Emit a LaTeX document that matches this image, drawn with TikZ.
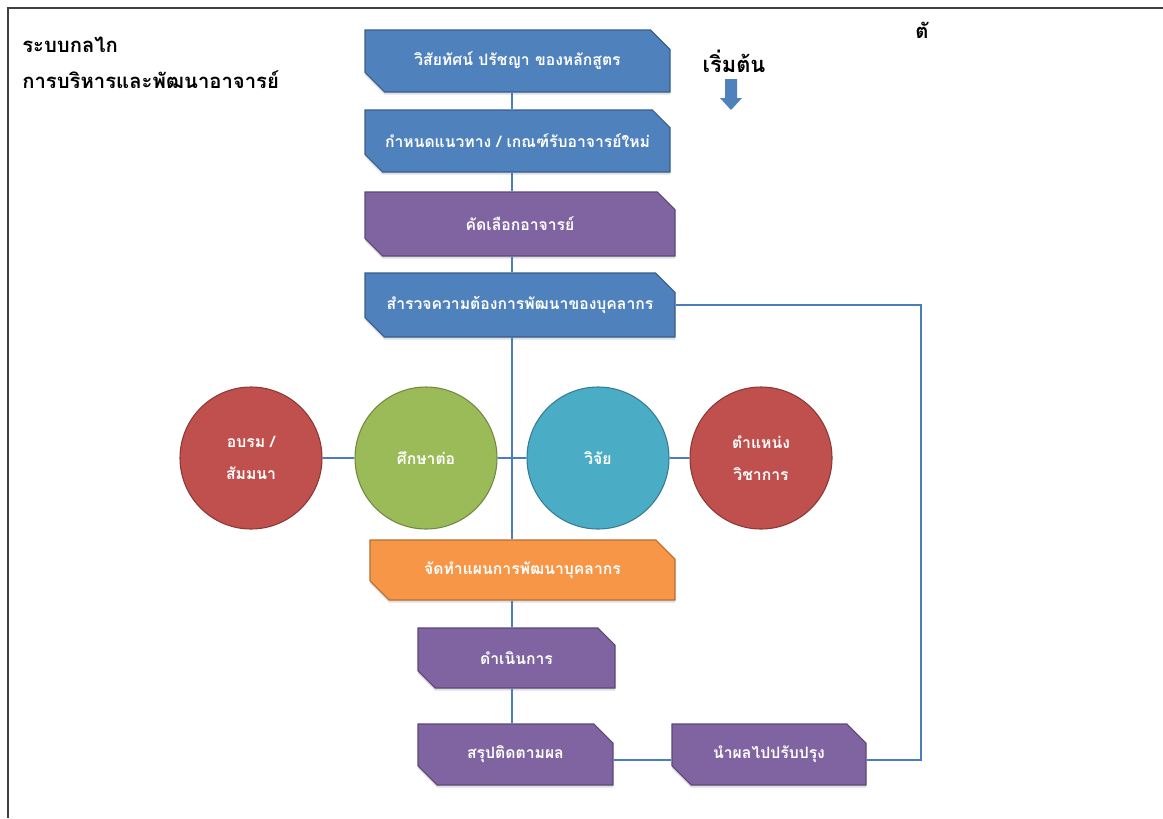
\documentclass[tikz,border=0pt]{standalone}
\usepackage{fontspec}
\newfontfamily\thai[Script=Thai]{Loma}
\usetikzlibrary{shapes.misc,shadows}
\definecolor{bfill}{HTML}{4F81BD}
\definecolor{bdraw}{HTML}{385D8A}
\definecolor{pfill}{HTML}{8064A2}
\definecolor{pdraw}{HTML}{5C4776}
\definecolor{ofill}{HTML}{F79646}
\definecolor{odraw}{HTML}{B66D31}
\definecolor{rfill}{HTML}{C0504D}
\definecolor{rdraw}{HTML}{8C3836}
\definecolor{gfill}{HTML}{9BBB59}
\definecolor{gdraw}{HTML}{71893F}
\definecolor{tfill}{HTML}{4BACC6}
\definecolor{tdraw}{HTML}{357D91}
\definecolor{lblue}{HTML}{4A7EBB}
\begin{document}
\begin{tikzpicture}[x=0.75pt,y=-0.75pt,
  snipbox/.style 2 args={chamfered rectangle,
    chamfered rectangle corners={north east,south west},
    chamfered rectangle xsep=8pt, chamfered rectangle ysep=8pt,
    inner sep=0pt, fill=#1, draw=#2, line width=0.8pt,
    text=white, font=\thai\bfseries\fontsize{11.8}{14}\selectfont,
    drop shadow={shadow xshift=0pt, shadow yshift=-2pt, opacity=0.25}},
  circ/.style 2 args={circle, minimum size=106.5pt, inner sep=0pt,
    fill=#1, draw=#2, line width=0.8pt, text=white, align=center,
    font=\thai\bfseries\fontsize{11.8}{24}\selectfont},
  conn/.style={draw=lblue, line width=2pt, line join=miter},
  title/.style={anchor=west, inner sep=0pt, font=\thai\bfseries\fontsize{15.2}{17}\selectfont}
]
\useasboundingbox[fill=white] (0,0) rectangle (1163,818);
\draw[line width=1.1pt, black!75] (8,818) -- (8,8) -- (1163,8);

% titles
\node[title] (t1) at (22,45) {ระบบกลไก};
\node[title] (t2) at (22,80) {การบริหารและพัฒนาอาจารย์};
\node[title, anchor=center, font=\thai\bfseries\fontsize{16.4}{18}\selectfont] (start) at (734,61) {เริ่มต้น};
\node[title, anchor=center] (cut) at (922,30) {ตั};
\fill[bfill] (725,79) -- (737,79) -- (737,98) -- (742,98) -- (731,110) -- (720,98) -- (725,98) -- cycle;

% trunk coordinate
\coordinate (tr) at (512,0);

% boxes
\node[snipbox={bfill}{bdraw}, minimum width=228.75pt, minimum height=46.5pt] (b1) at (517.5,61) {วิสัยทัศน์ ปรัชญา ของหลักสูตร};
\node[snipbox={bfill}{bdraw}, minimum width=228.75pt, minimum height=46.5pt] (b2) at (517.5,141) {กำหนดแนวทาง / เกณฑ์รับอาจารย์ใหม่};
\node[snipbox={pfill}{pdraw}, minimum width=232.5pt, minimum height=48pt] (b3) at (520,224) {คัดเลือกอาจารย์};
\node[snipbox={bfill}{bdraw}, minimum width=232.5pt, minimum height=48pt] (b4) at (520,305) {สำรวจความต้องการพัฒนาของบุคลากร};
\node[snipbox={ofill}{odraw}, minimum width=228.75pt, minimum height=45pt] (b5) at (522.5,570) {จัดทำแผนการพัฒนาบุคลากร};
\node[snipbox={pfill}{pdraw}, minimum width=147.75pt, minimum height=45pt] (b6) at (516.5,658) {ดำเนินการ};
\node[snipbox={pfill}{pdraw}, minimum width=146.25pt, minimum height=45.75pt] (b7) at (515.5,754.5) {สรุปติดตามผล};
\node[snipbox={pfill}{pdraw}, minimum width=145.5pt, minimum height=45.75pt] (b8) at (769,754.5) {นำผลไปปรับปรุง};

% circles
\node[circ={rfill}{rdraw}] (c1) at (251,458) {อบรม /\\สัมมนา};
\node[circ={gfill}{gdraw}] (c2) at (426,458) {ศึกษาต่อ};
\node[circ={tfill}{tdraw}] (c3) at (598,458) {วิจัย};
\node[circ={rfill}{rdraw}] (c4) at (761,458) {ตำแหน่ง\\วิชาการ};

% connectors
\draw[conn] (b1.south -| tr) -- (b2.north -| tr);
\draw[conn] (b2.south -| tr) -- (b3.north -| tr);
\draw[conn] (b3.south -| tr) -- (b4.north -| tr);
\draw[conn] (b4.south -| tr) -- (b5.north -| tr);
\draw[conn] (b5.south -| tr) -- (b6.north -| tr);
\draw[conn] (b6.south -| tr) -- (b7.north -| tr);
\draw[conn] (c1.east) -- (c2.west);
\draw[conn] (c2.east) -- (c3.west);
\draw[conn] (c3.east) -- (c4.west);
\coordinate (fbx) at (921,0);
\coordinate (e8) at ([yshift=-4pt]b8.east);
\draw[conn] ([yshift=-4pt]b7.east) -- ([yshift=-4pt]b8.west);
\draw[conn] (e8) -- (e8 -| fbx) -- (b4.east -| fbx) -- (b4.east);
\end{tikzpicture}
\end{document}
